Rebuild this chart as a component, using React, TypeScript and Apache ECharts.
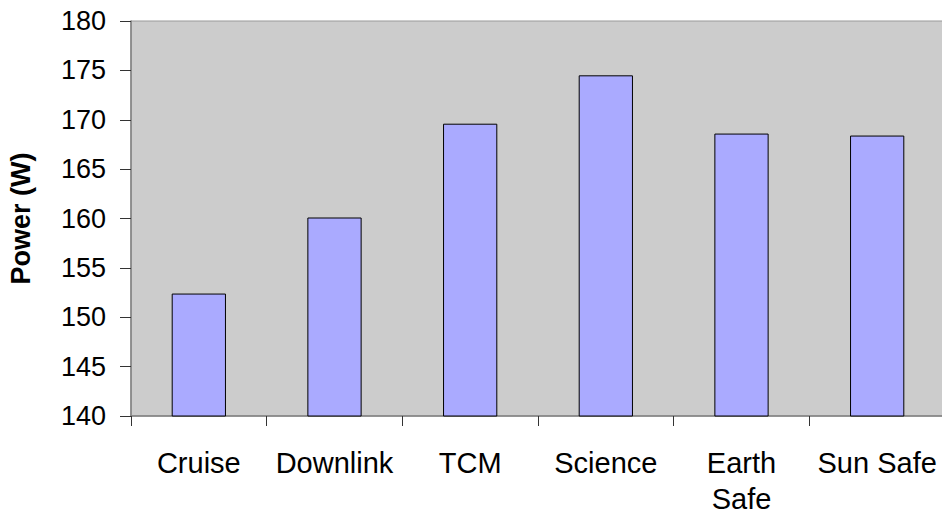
import React, { useEffect, useRef } from "react";
import * as echarts from "echarts";

const categories = ["Cruise", "Downlink", "TCM", "Science", "Earth\nSafe", "Sun Safe"];
const powerValues = [152.4, 160.1, 169.6, 174.5, 168.6, 168.4];
const yMin = 140;
const yMax = 180;
const yInterval = 5;

export default function App() {
  const ref = useRef<HTMLDivElement>(null);
  useEffect(() => {
    if (!ref.current) return;
    const chart = echarts.init(ref.current, undefined, { renderer: "svg" });
    const font = "Arial, 'Liberation Sans', sans-serif";
    chart.setOption({
      animation: false,
      backgroundColor: "#ffffff",
      grid: {
        left: 131,
        top: 21,
        right: -3,
        bottom: 101,
        containLabel: false,
        outerBoundsMode: "none",
        show: true,
        backgroundColor: "#CCCCCC",
        borderColor: "#999999",
        borderWidth: 1,
      },
      xAxis: {
        type: "category",
        data: categories,
        axisLine: { show: true, lineStyle: { color: "#808080", width: 1.5 } },
        axisTick: { show: true, length: 10, lineStyle: { color: "#333333" } },
        axisLabel: {
          color: "#000000",
          fontFamily: font,
          fontSize: 29,
          margin: 29,
          lineHeight: 36,
          interval: 0,
        },
        splitLine: { show: false },
      },
      yAxis: {
        type: "value",
        min: yMin,
        max: yMax,
        interval: yInterval,
        name: "Power (W)",
        nameLocation: "middle",
        nameGap: 97,
        nameTextStyle: {
          color: "#000000",
          fontFamily: font,
          fontSize: 27,
          fontWeight: "bold",
        },
        axisLine: { show: true, lineStyle: { color: "#808080", width: 1.5 } },
        axisTick: { show: true, length: 11, lineStyle: { color: "#333333" } },
        axisLabel: {
          color: "#000000",
          fontFamily: font,
          fontSize: 27,
          margin: 25,
        },
        splitLine: { show: false },
      },
      series: [
        {
          type: "bar",
          data: powerValues,
          barWidth: "40%",
          itemStyle: {
            color: "#AAAAFF",
            borderColor: "#000000",
            borderWidth: 1,
          },
        },
      ],
    });
    return () => chart.dispose();
  }, []);
  return (
    <div
      ref={ref}
      style={{ position: "fixed", left: 0, top: 0, width: 942, height: 517 }}
    />
  );
}
